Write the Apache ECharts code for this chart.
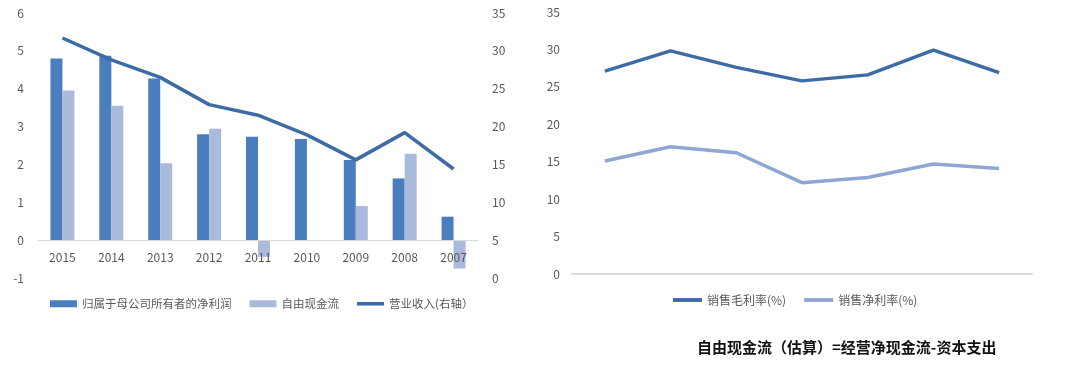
<!DOCTYPE html>
<html><head><meta charset="utf-8">
<script src="https://cdn.jsdelivr.net/npm/echarts@6/dist/echarts.min.js"></script>
<style>html,body{margin:0;padding:0;background:#fff}#c{width:1080px;height:368px}</style>
</head><body><div id="c"></div>
<script>
// Left panel
const years = ['2015','2014','2013','2012','2011','2010','2009','2008','2007'];
const netProfit = [4.80, 4.87, 4.27, 2.80, 2.73, 2.67, 2.12, 1.63, 0.62];
const freeCashFlow = [3.95, 3.55, 2.03, 2.94, -0.44, 0, 0.90, 2.28, -0.75];
const revenue = [31.7, 28.8, 26.5, 22.9, 21.5, 18.9, 15.6, 19.2, 14.4];
const leftTicks = [-1, 0, 1, 2, 3, 4, 5, 6];
const rightTicks = [0, 5, 10, 15, 20, 25, 30, 35];
// Right panel
const marginCats = ['2015','2014','2013','2012','2011','2010','2009'];
const grossMargin = [27.1, 29.8, 27.6, 25.8, 26.6, 29.9, 26.9];
const netMargin = [15.1, 17.0, 16.2, 12.2, 12.9, 14.7, 14.1];
const noteText = '自由现金流（估算）=经营净现金流-资本支出';

const FONT = '"Noto Sans CJK SC","Noto Sans",sans-serif';
const TXT = '#595959';
const C_DARK_BAR = '#4A7EBF';
const C_LIGHT_BAR = '#A9BADB';
const C_LINE = '#3D6BA6';
const C_LINE2 = '#8EA6D4';
const LINE_ICON = 'path://M0,0 L30,0 L30,4 L0,4 Z';

const chart = echarts.init(document.getElementById('c'));
chart.setOption({
  animation: false,
  textStyle: {fontFamily: FONT},
  grid: [
    {left: 38, right: 602, top: 13, bottom: 90},
    {left: 572, right: 48, top: 12, bottom: 94}
  ],
  legend: [
    {left: 50, top: 298, padding: 0, itemWidth: 27, itemHeight: 7, itemGap: 18,
     textStyle: {color: TXT, fontSize: 11.5, fontFamily: FONT},
     data: [{name: '归属于母公司所有者的净利润', icon: 'rect'}, {name: '自由现金流', icon: 'rect'}, {name: '营业收入(右轴）', icon: LINE_ICON}]},
    {left: 673, top: 294, padding: 0, itemWidth: 29, itemHeight: 7, itemGap: 18,
     textStyle: {color: TXT, fontSize: 12, fontFamily: FONT},
     data: [{name: '销售毛利率(%)', icon: LINE_ICON}, {name: '销售净利率(%)', icon: LINE_ICON}]}
  ],
  xAxis: [
    {type: 'category', gridIndex: 0, data: years, position: 'bottom', offset: -38, z: 5,
     axisLine: {onZero: false, lineStyle: {color: '#D9D9D9', width: 1}},
     axisTick: {show: false},
     axisLabel: {color: TXT, fontSize: 12, margin: 11}},
    {type: 'category', gridIndex: 1, data: marginCats,
     axisLine: {lineStyle: {color: '#D9D9D9', width: 2}},
     axisTick: {show: false},
     axisLabel: {show: false}}
  ],
  yAxis: [
    {type: 'value', gridIndex: 0, min: leftTicks[0], max: leftTicks[leftTicks.length-1], interval: 1,
     axisLine: {show: false}, axisTick: {show: false}, splitLine: {show: false},
     axisLabel: {color: TXT, fontSize: 12, margin: 14}},
    {type: 'value', gridIndex: 0, position: 'right', min: rightTicks[0], max: rightTicks[rightTicks.length-1], interval: 5,
     axisLine: {show: false}, axisTick: {show: false}, splitLine: {show: false},
     axisLabel: {color: TXT, fontSize: 12, margin: 14}},
    {type: 'value', gridIndex: 1, min: 0, max: 35, interval: 5,
     axisLine: {show: false}, axisTick: {show: false}, splitLine: {show: false},
     axisLabel: {color: TXT, fontSize: 12, margin: 12}}
  ],
  series: [
    {name: '归属于母公司所有者的净利润', type: 'bar', xAxisIndex: 0, yAxisIndex: 0, data: netProfit,
     barWidth: 12, barGap: '0%', itemStyle: {color: C_DARK_BAR}},
    {name: '自由现金流', type: 'bar', xAxisIndex: 0, yAxisIndex: 0, data: freeCashFlow,
     barWidth: 12, barGap: '0%', itemStyle: {color: C_LIGHT_BAR}},
    {name: '营业收入(右轴）', type: 'line', xAxisIndex: 0, yAxisIndex: 1, data: revenue, z: 6,
     symbol: 'none', showSymbol: false, lineStyle: {color: C_LINE, width: 3.5}, itemStyle: {color: C_LINE}},
    {name: '销售毛利率(%)', type: 'line', xAxisIndex: 1, yAxisIndex: 2, data: grossMargin,
     symbol: 'none', showSymbol: false, lineStyle: {color: C_LINE, width: 3.5}, itemStyle: {color: C_LINE}},
    {name: '销售净利率(%)', type: 'line', xAxisIndex: 1, yAxisIndex: 2, data: netMargin,
     symbol: 'none', showSymbol: false, lineStyle: {color: C_LINE2, width: 3.5}, itemStyle: {color: C_LINE2}}
  ],
  graphic: [
    {type: 'text', left: 697, top: 340,
     style: {text: noteText, fill: '#111', fontSize: 15, fontWeight: 'bold', fontFamily: FONT}}
  ]
});
</script></body></html>
